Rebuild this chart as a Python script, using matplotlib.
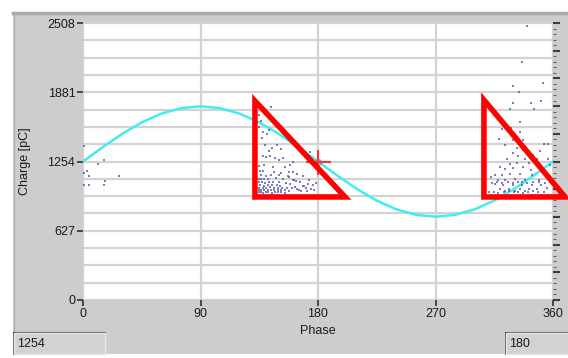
import matplotlib.pyplot as plt
from matplotlib.patches import Polygon, Rectangle
from matplotlib.lines import Line2D

# reference curve
curve_phase = [0, 15, 30, 45, 60, 75, 90, 105, 120, 135, 150, 165, 180,
               195, 210, 225, 240, 255, 270, 285, 300, 315, 330, 345, 360]
curve_charge = [1254, 1383, 1504, 1608, 1687, 1737, 1754, 1737, 1687, 1608, 1504, 1383, 1254,
                1125, 1004, 900, 821, 771, 754, 771, 821, 900, 1004, 1125, 1254]

# pulses near 0 deg
p0_phase = [1.0, 11.3, 16.3, 0.5, 3.1, 4.6, 1.0, 4.6, 16.9, 16.3, 27.6]
p0_charge = [1394, 1229, 1268, 1147, 1171, 1123, 1039, 1039, 1080, 1039, 1123]

# pulses in the first triangle
p1_phase = [143.8, 134.8, 136.3, 134.8, 137.9, 140.9, 142.5, 137.1, 139.4, 142.5, 144.8, 148.6,
            151.7, 137.9, 140.2, 143.2, 147.1, 150.1, 153.2, 158.6, 160.9, 138.6, 134.8, 145.5,
            154.7, 157.8, 163.9, 168.5, 173.1, 160.9, 166.2, 172.4, 168.5, 176.2, 178.5, 173.9,
            134.5, 136.0, 138.0, 140.0, 142.0, 144.5, 147.0, 149.5, 152.0, 155.0, 134.5, 136.5,
            139.0, 141.5, 144.0, 146.5, 149.0, 151.5, 154.5, 158.0, 135.0, 137.5, 140.5, 143.0,
            146.0, 149.0, 152.5, 156.0, 160.0, 164.0, 135.5, 138.5, 141.5, 145.0, 148.5, 151.0,
            135.0, 137.0, 139.5, 142.5, 145.5, 150.0, 155.5, 134.5, 136.0, 139.0, 142.0, 147.5,
            153.0, 161.5, 136.5, 140.0, 144.0, 150.5, 157.0, 135.5, 138.0, 146.0, 152.0,
            158.5, 162.0, 165.5, 169.0, 171.5, 175.0, 163.0, 167.0, 170.5, 177.0, 157.5, 161.0]
p1_charge = [1747, 1675, 1621, 1566, 1521, 1503, 1539, 1467, 1403, 1349, 1376, 1403,
             1367, 1304, 1295, 1304, 1286, 1268, 1286, 1222, 1249, 1222, 1213, 1204,
             1204, 1159, 1141, 1123, 1086, 1086, 1068, 1050, 1032, 1041, 1059, 1343,
             975, 978, 972, 980, 975, 970, 978, 974, 980, 972, 995, 998,
             992, 1000, 995, 998, 993, 1000, 996, 990, 1015, 1018, 1012, 1020,
             1016, 1012, 1018, 1014, 1010, 1005, 1040, 1035, 1042, 1038, 1045, 1036,
             1065, 1070, 1062, 1068, 1072, 1066, 1060, 1095, 1100, 1092, 1098, 1102,
             1096, 1090, 1130, 1125, 1135, 1128, 1120, 1165, 1170, 1160, 1150,
             1050, 1020, 1000, 1030, 990, 1005, 1080, 985, 1010, 1000, 1110, 1160]

# pulses in the second triangle
p2_phase = [339.9, 336.0, 329.2, 352.1, 333.7, 329.2, 342.9, 351.1, 327.1, 345.5, 334.7, 320.9,
            328.1, 334.7, 318.9, 329.2, 337.3, 356.2, 353.1, 323.5, 332.2, 337.3, 350.1, 329.6,
            344.5, 333.2, 325.0, 338.4, 347.5, 356.2, 327.1, 332.2, 341.4, 319.4, 323.0, 329.6,
            337.3, 343.4, 351.1, 357.7, 315.8, 320.9, 327.1, 334.7, 343.9, 354.1, 312.3, 317.9,
            323.5, 330.7, 338.8, 349.1, 356.7, 315.8, 321.9, 329.6, 336.3, 343.9, 351.1, 319.4,
            326.5, 334.7, 341.4, 347.5, 355.2, 323.0, 331.2, 338.4,
            311.0, 314.5, 318.0, 322.5, 326.0, 330.0, 333.5, 337.0, 340.5, 345.0, 348.5, 353.0,
            313.0, 317.0, 321.0, 325.5, 329.0, 333.0, 336.5, 340.0, 344.5, 349.5, 354.0, 358.0]
p2_charge = [2480, 2158, 1940, 1965, 1880, 1784, 1784, 1802, 1729, 1729, 1612, 1551,
             1557, 1521, 1460, 1449, 1449, 1412, 1412, 1401, 1376, 1358, 1346, 1334,
             1316, 1304, 1279, 1279, 1279, 1274, 1231, 1243, 1238, 1207, 1189, 1195,
             1207, 1177, 1195, 1220, 1129, 1129, 1141, 1141, 1129, 1147, 1111, 1086,
             1086, 1098, 1086, 1086, 1098, 1050, 1038, 1038, 1038, 1038, 1038, 1008,
             1002, 1002, 1002, 1002, 1014, 990, 990, 990,
             975, 980, 972, 978, 984, 975, 980, 972, 978, 983, 975, 980,
             1060, 1065, 1058, 1070, 1062, 1066, 1072, 1060, 1068, 1064, 1058, 1070]

# red triangles (phase, charge)
tri1 = [(131.7, 1802), (131.7, 933), (200.7, 933)]
tri2 = [(307.1, 1811), (307.1, 933), (369.2, 933)]

y_ticks = [0, 627, 1254, 1881, 2508]
x_ticks = [0, 90, 180, 270, 360]

plt.rcParams['font.family'] = ['Liberation Sans', 'DejaVu Sans']

fig = plt.figure(figsize=(5.68, 3.58), dpi=100)
fig.patch.set_facecolor('white')

# grey panel behind everything
fig.patches.append(Rectangle((13 / 568, 0.01), 1, (346 / 358) - 0.01, transform=fig.transFigure,
                             facecolor='#cdcdcd', edgecolor='none', zorder=-3))
fig.lines.append(Line2D([13 / 568, 1], [1 - 13 / 358, 1 - 13 / 358], transform=fig.transFigure,
                        color='#a9a9a9', lw=2.5, zorder=-2))
fig.lines.append(Line2D([13.5 / 568, 13.5 / 568], [0.01, 1 - 13 / 358], transform=fig.transFigure,
                        color='#b0b0b0', lw=1, zorder=-2))

ax = fig.add_axes([83 / 568, 1 - 300 / 358, 470 / 568, 277 / 358])
ax.set_zorder(2)
ax.set_facecolor('white')
ax.set_xlim(0, 360)
ax.set_ylim(0, 2508)

ax.set_xticks(x_ticks)
ax.set_yticks(y_ticks)
ax.set_yticks([i * 2508 / 16 for i in range(17)], minor=True)
ax.tick_params(axis='both', which='major', length=4, width=1.2, color='#303030',
               labelsize=9, labelcolor='#1a1a1a', pad=1.5)
ax.tick_params(axis='y', which='minor', length=0)
ax.grid(True, axis='y', which='both', color='#d3d3d3', lw=1.6)
ax.grid(True, axis='x', which='major', color='#d3d3d3', lw=1.6)
ax.set_axisbelow(True)
for s in ax.spines.values():
    s.set_visible(False)

ax.set_xlabel('Phase', fontsize=9, color='#1a1a1a', labelpad=4)
ax.set_ylabel('Charge [pC]', fontsize=9, color='#1a1a1a', labelpad=12)

# reference sine
ax.plot(curve_phase, curve_charge, color='#40eef0', lw=1.8, zorder=2)

# pulses
for ph, ch in [(p0_phase, p0_charge), (p1_phase, p1_charge), (p2_phase, p2_charge)]:
    ax.scatter(ph, ch, s=3.5, marker='s', color='#4646a6', alpha=0.7, linewidths=0, zorder=3)

# cursor
ax.plot([180], [1254], marker='o', ms=4, mfc='none', mec='#70a0a0', mew=1, zorder=4)
ax.plot([180], [1254], marker='+', ms=18, mec='#ff3030', mew=1.5, zorder=4)

# triangles
for tri in [tri1, tri2]:
    ax.add_patch(Polygon(tri, closed=True, fill=False, edgecolor='#ff0000', lw=4,
                         joinstyle='miter', clip_on=False, zorder=5))

# ruler on the right side
ax2 = ax.twinx()
ax2.set_zorder(1)
ax2.set_ylim(0, 2508)
ax2.set_yticks([i * 250.8 for i in range(11)])
ax2.set_yticks([i * 50.16 for i in range(51)], minor=True)
ax2.tick_params(axis='y', which='major', length=5, width=1.5, color='#404040', labelright=False)
ax2.tick_params(axis='y', which='minor', length=2, width=0.8, color='#606060')
for s in ax2.spines.values():
    s.set_visible(False)

# value boxes at the bottom
for x0, w, txt in [(14, 91, '1254'), (506, 62, '180')]:
    fig.patches.append(Rectangle((x0 / 568, 1 - 354 / 358), w / 568, 21 / 358,
                                 transform=fig.transFigure, facecolor='#d2d2d2',
                                 edgecolor='#e8e8e8', lw=1, zorder=-1))
    fig.lines.append(Line2D([x0 / 568, (x0 + w) / 568], [1 - 333 / 358, 1 - 333 / 358],
                            transform=fig.transFigure, color='#404040', lw=1.2, zorder=-1))
    fig.lines.append(Line2D([x0 / 568, x0 / 568], [1 - 333 / 358, 1 - 354 / 358],
                            transform=fig.transFigure, color='#404040', lw=1.2, zorder=-1))
    fig.text((x0 + 3) / 568, 1 - 344 / 358, txt, fontsize=9, color='#1a1a1a',
             va='center', ha='left')

fig.savefig('out.png', dpi=100)
